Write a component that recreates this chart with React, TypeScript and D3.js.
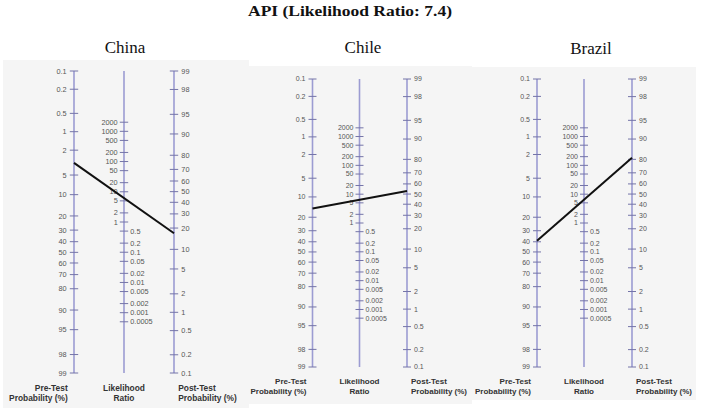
import React from "react";
import * as d3 from "d3";

const chartTitle = "API (Likelihood Ratio: 7.4)";
const countries = ["China", "Chile", "Brazil"];
const preTest = [3.2, 15, 39];
const postTest = [17, 53, 81];
const probTicks = [0.1, 0.2, 0.5, 1, 2, 5, 10, 20, 30, 40, 50, 60, 70, 80, 90, 95, 98, 99];
const lrTicks = [2000, 1000, 500, 200, 100, 50, 20, 10, 5, 2, 1, 0.5, 0.2, 0.1, 0.05, 0.02, 0.01, 0.005, 0.002, 0.001, 0.0005];
const lrLabels = ["2000", "1000", "500", "200", "100", "50", "20", "10", "5", "2", "1", "0.5", "0.2", "0.1", "0.05", "0.02", "0.01", "0.005", "0.002", "0.001", "0.0005"];
const axisTitles = [["Pre-Test", "Probability (%)"], ["Likelihood", "Ratio"], ["Post-Test", "Probability (%)"]];

const layouts = [
  { bg: [3, 60, 246, 348], left: 74, mid: 124, right: 174, top: 71, bottom: 373, tx: 125, ty: 53, s: 1.049 },
  { bg: [248, 66, 224, 338], left: 312.5, mid: 359.5, right: 407, top: 79, bottom: 367, tx: 363, ty: 53, s: 1 },
  { bg: [472, 67, 224, 333], left: 537, mid: 584, right: 632, top: 79, bottom: 367, tx: 591, ty: 54, s: 1 },
];

const logit = (p: number) => Math.log(p / (100 - p));
const AXIS = "#9c9cd2";
const TICK = "#7474a8";
const SANS = "'Liberation Sans', Arial, sans-serif";
const SERIF = "'Liberation Serif', 'Times New Roman', serif";

function Panel({ i }: { i: number }) {
  const L = layouts[i];
  const s = L.s;
  const yPre = d3.scaleLinear().domain([logit(0.1), logit(99)]).range([L.top, L.bottom]);
  const yPost = d3.scaleLinear().domain([logit(99), logit(0.1)]).range([L.top, L.bottom]);
  const center = (yPre(logit(50)) + yPost(logit(50))) / 2;
  const unit = (L.bottom - L.top) / (logit(99) - logit(0.1));
  const yLR = d3.scaleLog().domain([1, Math.E]).range([center, center - unit / 2]);
  const tl = 4 * s;
  const fs = 7 * s;
  const lfs = 8 * s;
  return (
    <g>
      <rect x={L.bg[0]} y={L.bg[1]} width={L.bg[2]} height={L.bg[3]} fill="#f5f5f5" />
      <text x={L.tx} y={L.ty} textAnchor="middle" fontFamily={SERIF} fontSize={17} fill="#111">{countries[i]}</text>
      {/* axes */}
      {[L.left, L.mid, L.right].map((x, k) => (
        <line key={k} x1={x} x2={x} y1={L.top} y2={L.bottom} stroke={AXIS} strokeWidth={1.6} />
      ))}
      {/* pre-test ticks */}
      {probTicks.map((t) => (
        <g key={"pre" + t}>
          <line x1={L.left - tl} x2={L.left + tl} y1={yPre(logit(t))} y2={yPre(logit(t))} stroke={TICK} strokeWidth={1} />
          <text x={L.left - 7 * s} y={yPre(logit(t))} dy="0.35em" textAnchor="end" fontFamily={SANS} fontSize={fs} fill="#555">{String(t)}</text>
        </g>
      ))}
      {/* post-test ticks */}
      {probTicks.map((t) => (
        <g key={"post" + t}>
          <line x1={L.right - tl} x2={L.right + tl} y1={yPost(logit(t))} y2={yPost(logit(t))} stroke={TICK} strokeWidth={1} />
          <text x={L.right + 7 * s} y={yPost(logit(t))} dy="0.35em" textAnchor="start" fontFamily={SANS} fontSize={fs} fill="#555">{String(t)}</text>
        </g>
      ))}
      {/* LR ticks */}
      {lrTicks.map((t, k) => (
        <g key={"lr" + t}>
          <line x1={L.mid - tl} x2={L.mid + tl} y1={yLR(t)} y2={yLR(t)} stroke={TICK} strokeWidth={1} />
          <text x={t >= 1 ? L.mid - 6 * s : L.mid + 6 * s} y={yLR(t)} dy="0.35em" textAnchor={t >= 1 ? "end" : "start"} fontFamily={SANS} fontSize={fs} fill="#555">{lrLabels[k]}</text>
        </g>
      ))}
      {/* result line */}
      <line x1={L.left} y1={yPre(logit(preTest[i]))} x2={L.right} y2={yPost(logit(postTest[i]))} stroke="#111" strokeWidth={2} />
      {/* axis titles */}
      {axisTitles.map((lines, k) => {
        const x = k === 0 ? L.left - 6 * s : k === 1 ? L.mid : L.right + 4 * s;
        const anchor = k === 0 ? "end" : k === 1 ? "middle" : "start";
        return lines.map((txt, j) => (
          <text key={k + "-" + j} x={x} y={L.bottom + (17 + 9.5 * j) * s} textAnchor={anchor} fontFamily={SANS} fontWeight="bold" fontSize={lfs} fill="#333">{txt}</text>
        ));
      })}
    </g>
  );
}

export default function App() {
  return (
    <svg width={708} height={412} style={{ position: "absolute", left: 0, top: 0, background: "#fff" }}>
      <rect width={708} height={412} fill="#fff" />
      <text x={350} y={16} textAnchor="middle" fontFamily={SERIF} fontWeight="bold" fontSize={15} textLength={204} lengthAdjust="spacingAndGlyphs" fill="#111">{chartTitle}</text>
      {countries.map((c, i) => <Panel key={c} i={i} />)}
    </svg>
  );
}
